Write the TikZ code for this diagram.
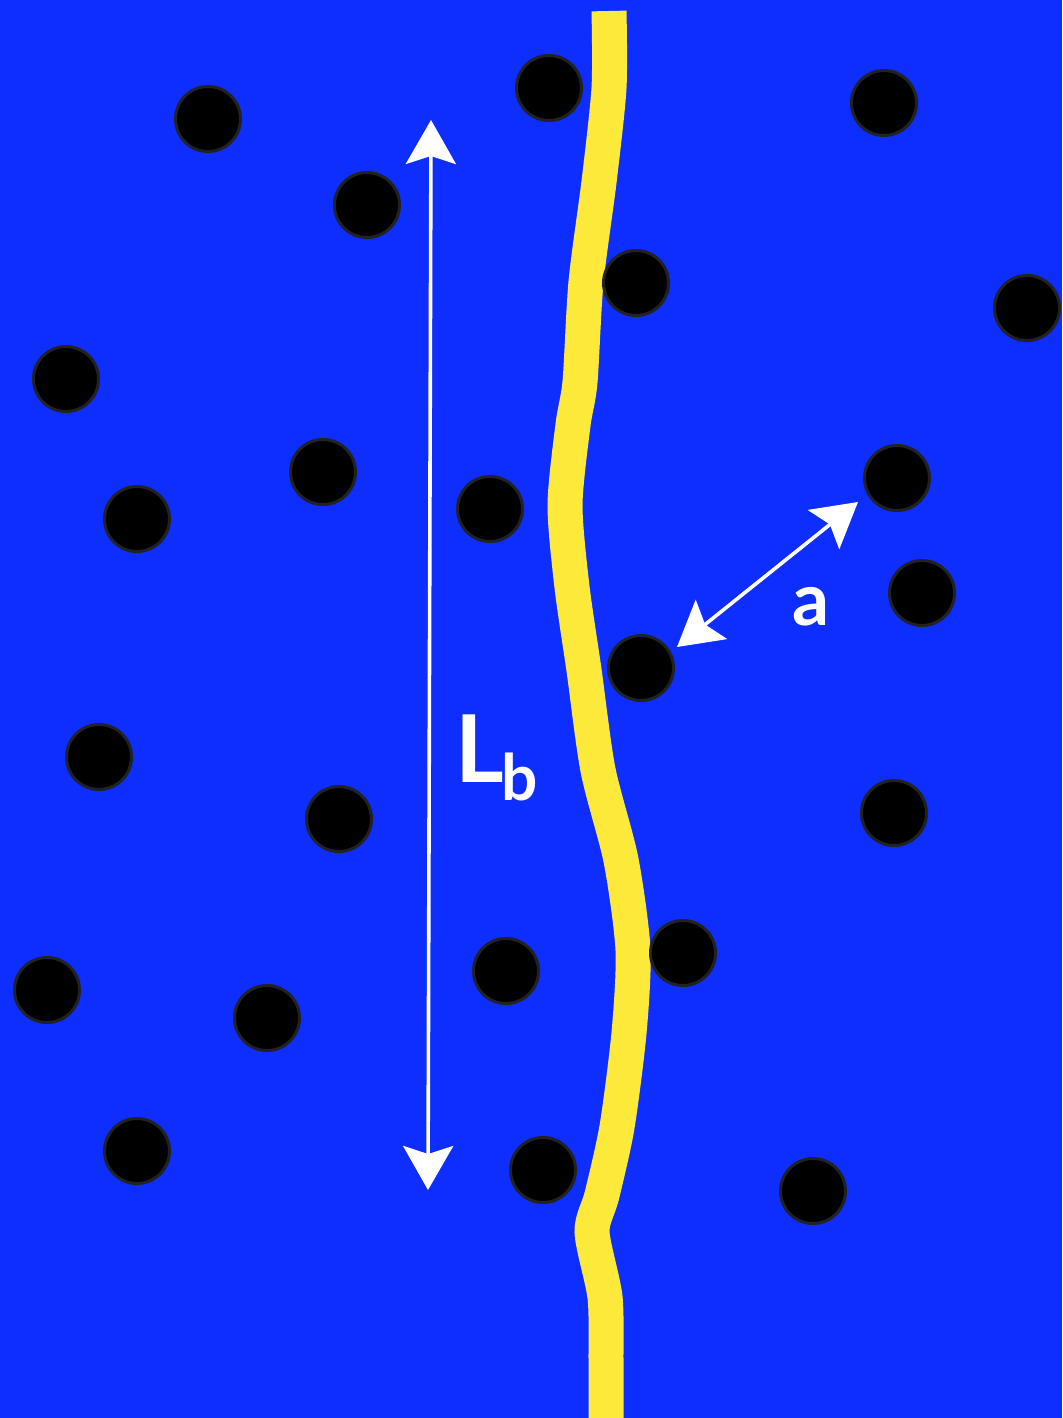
\documentclass[tikz,border=0pt]{standalone}
\usepackage{fontspec}
\setmainfont{Lato}
\usetikzlibrary{arrows.meta}
\definecolor{bg}{RGB}{13,46,255}
\definecolor{crack}{RGB}{253,233,58}
\definecolor{rim}{RGB}{34,34,34}
\begin{document}
\begin{tikzpicture}[x=0.5pt,y=-0.5pt,
  dot/.style={circle,fill=black,draw=rim,line width=1.5pt,minimum size=32.5pt,inner sep=0pt},
  dimarrow/.style={white,line width=1.8pt,{Stealth[length=22pt,width=25pt,inset=4pt]}-{Stealth[length=22pt,width=25pt,inset=4pt]}},
  lbl/.style={white,inner sep=0pt}]
\fill[bg] (0,0) rectangle (1062,1418);
\useasboundingbox (0,0) rectangle (1062,1418);
% yellow line
\draw[crack,line width=17.5pt] plot[smooth,tension=0.45] coordinates {
  (609,11) (609,88) (599,182) (586,282) (580,382) (573,425) (565,505) (572,587)
  (584,670) (598,770) (621,860) (633,950) (629,1033) (617,1127) (602,1195)
  (592,1232) (605,1297) (606,1360) (606,1430)};
% dots
\foreach \n/\x/\y in {1/208/119, 2/549/88, 3/884/103, 4/367/205, 5/636/283,
  6/1027/308, 7/66/379, 8/323/472, 9/897/478, 10/137/519, 11/490/509,
  12/922/593, 13/641/668, 14/99/757, 15/339/819, 16/894/813, 17/683/953,
  18/506/971, 19/47/990, 20/267/1018, 21/137/1151, 22/543/1170, 23/813/1191}
  \node[dot] (c\n) at (\x,\y) {};
% arrows
\coordinate (vt) at (431,120);
\coordinate (vb) at (428,1190);
\coordinate (dt) at (858,502);
\coordinate (db) at (677,647);
\draw[dimarrow] (vb) -- (vt);
\draw[dimarrow] (db) -- (dt);
% labels
\node[lbl,anchor=base west,font=\fontsize{46.8}{50}\selectfont\bfseries] (Lb) at (455,782)
  {L\kern-1.5pt\raisebox{-9pt}{\fontsize{32}{36}\selectfont b}};
\node[lbl,anchor=base,font=\fontsize{36.5}{40}\selectfont\bfseries] (a) at (811,625) {a};
\end{tikzpicture}
\end{document}
